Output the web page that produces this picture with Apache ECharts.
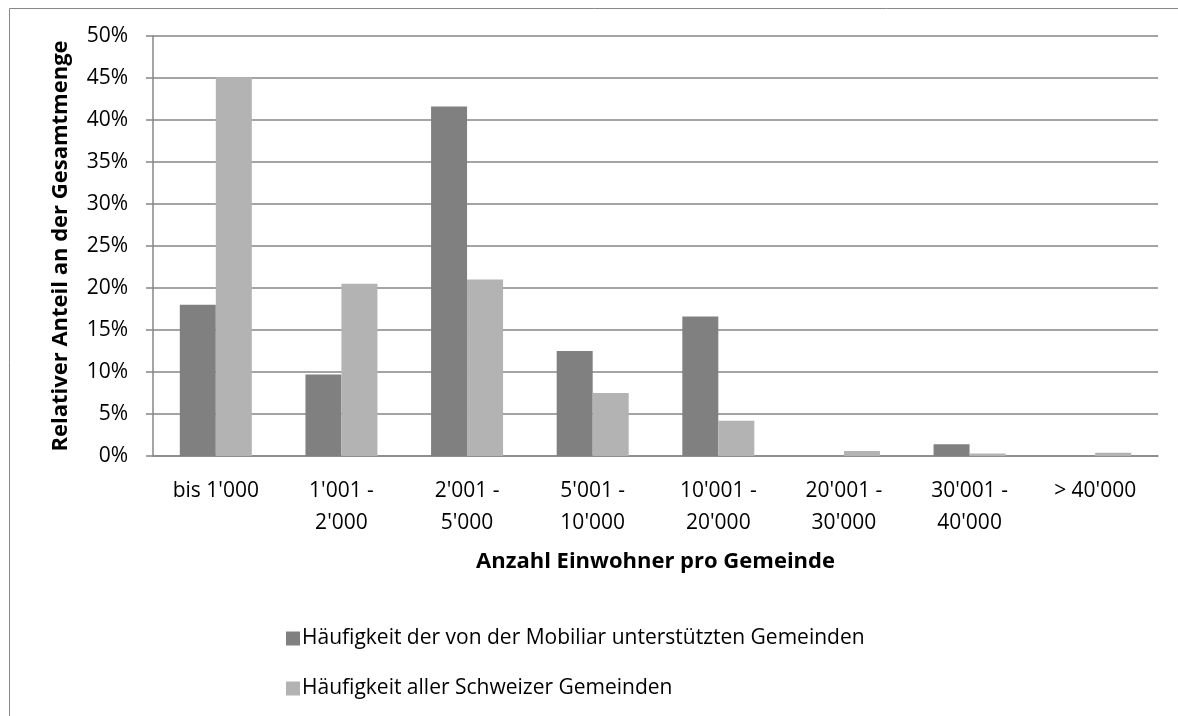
<!DOCTYPE html>
<html>
<head>
<meta charset="utf-8">
<script src="https://cdn.jsdelivr.net/npm/echarts@6/dist/echarts.min.js"></script>
<style>
  html, body { margin: 0; padding: 0; background: #fff; }
  #chart01 { width: 1178px; height: 716px; }
</style>
</head>
<body>
<div id="chart01"></div>
<script>
var categories = ['bis 1\'000', '1\'001 -\n2\'000', '2\'001 -\n5\'000', '5\'001 -\n10\'000',
    '10\'001 -\n20\'000', '20\'001 -\n30\'000', '30\'001 -\n40\'000', '> 40\'000'];
var mobiliar = [18.0, 9.7, 41.6, 12.5, 16.6, 0, 1.4, 0];
var schweiz = [45.1, 20.5, 21.0, 7.5, 4.2, 0.6, 0.3, 0.4];
var seriesNames = ['Häufigkeit der von der Mobiliar unterstützten Gemeinden', 'Häufigkeit aller Schweizer Gemeinden'];

var font = 'Open Sans';
var myChart = echarts.init(document.getElementById('chart01'));
var option = {
    animation: false,
    textStyle: { fontFamily: font },
    graphic: [{
        type: 'rect',
        shape: { x: 9.5, y: 8.5, width: 1200, height: 800 },
        style: { fill: 'none', stroke: '#888', lineWidth: 1 }
    }],
    grid: { left: 153, right: 20, top: 36, bottom: 260 },
    legend: {
        orient: 'vertical',
        left: 281,
        top: 623,
        itemGap: 29,
        itemWidth: 14,
        itemHeight: 14,
        icon: 'rect',
        textStyle: { fontFamily: font, fontSize: 21, color: '#000', padding: [0, 0, 0, -3] },
        data: seriesNames
    },
    xAxis: {
        type: 'category',
        data: categories,
        axisLine: { lineStyle: { color: '#868686', width: 1.5 } },
        axisTick: { length: 7, lineStyle: { color: '#868686', width: 1.5 } },
        axisLabel: { color: '#000', fontSize: 21, lineHeight: 32, margin: 19, interval: 0 },
        name: 'Anzahl Einwohner pro Gemeinde',
        nameLocation: 'middle',
        nameGap: 95,
        nameTextStyle: { color: '#000', fontSize: 22, fontWeight: 'bold' }
    },
    yAxis: {
        type: 'value',
        min: 0,
        max: 50,
        interval: 5,
        axisLine: { show: true, lineStyle: { color: '#868686', width: 1.5 } },
        axisTick: { show: true, length: 7, lineStyle: { color: '#868686', width: 1.5 } },
        splitLine: { lineStyle: { color: '#868686', width: 1.5 } },
        axisLabel: { color: '#000', fontSize: 21, margin: 25, formatter: '{value}%' },
        name: 'Relativer Anteil an der Gesamtmenge',
        nameLocation: 'middle',
        nameGap: 81,
        nameTextStyle: { color: '#000', fontSize: 22, fontWeight: 'bold' }
    },
    series: [
        {
            name: seriesNames[0],
            type: 'bar',
            data: mobiliar,
            barWidth: 36,
            barGap: '0%',
            itemStyle: { color: '#808080' }
        },
        {
            name: seriesNames[1],
            type: 'bar',
            data: schweiz,
            barWidth: 36,
            itemStyle: { color: '#b3b3b3' }
        }
    ]
};
myChart.setOption(option, true);
</script>
</body>
</html>
